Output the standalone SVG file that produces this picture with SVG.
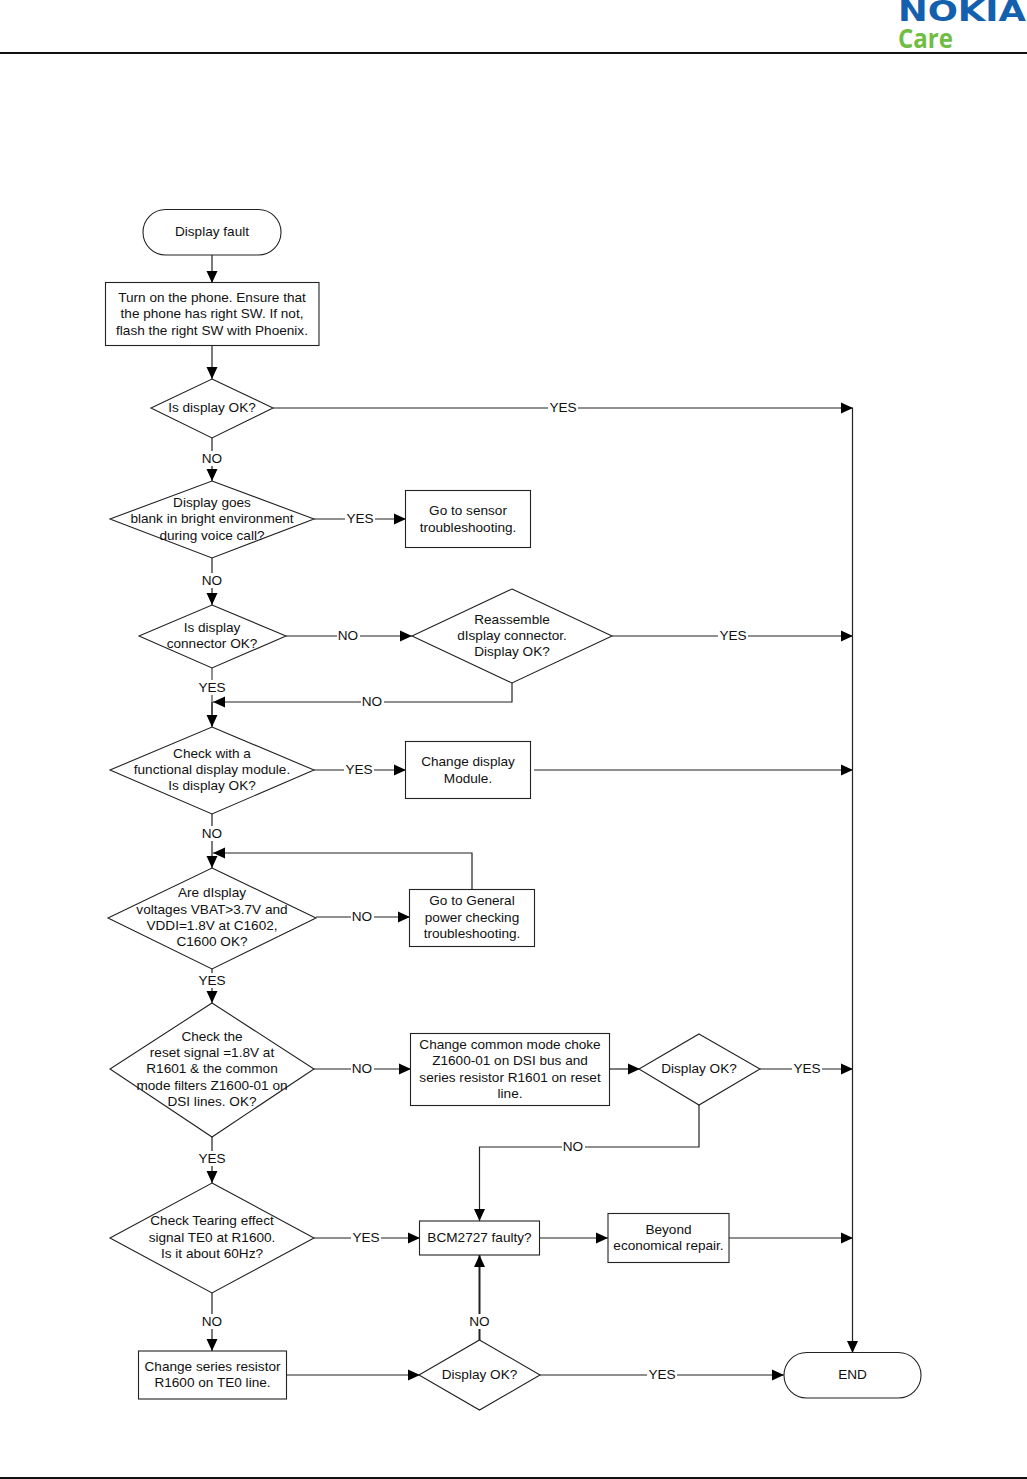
<svg xmlns="http://www.w3.org/2000/svg" width="1027" height="1479" viewBox="0 0 1027 1479">
<style>
text{font-family:"Liberation Sans",Arial,sans-serif;font-size:13.6px;fill:#111;text-anchor:middle}
.s{fill:#fff;stroke:#222;stroke-width:1.1}
.c{fill:none;stroke:#333;stroke-width:1.1}
.a{fill:none;stroke:#222;stroke-width:1.2;marker-end:url(#ah)}
.l{stroke:none;fill:#fff}
</style>
<defs><marker id="ah" markerUnits="userSpaceOnUse" markerWidth="13" markerHeight="13" refX="12" refY="6.500" orient="auto"><path d="M0,1L12,6.500L0,12Z" fill="#000"/></marker></defs>
<rect width="1027" height="1479" fill="#fff"/>
<g id="header">
<line x1="0" y1="53" x2="1027" y2="53" stroke="#111" stroke-width="2"/>
<line x1="0" y1="1478" x2="1027" y2="1478" stroke="#111" stroke-width="2"/>
<text x="962" y="21" textLength="128" lengthAdjust="spacingAndGlyphs" style="font-family:'DejaVu Sans',sans-serif;font-weight:bold;font-size:27.500px;fill:#1361ae">NOKIA</text>
<text x="925.500" y="48" textLength="55" lengthAdjust="spacingAndGlyphs" style="font-family:'Open Sans',sans-serif;font-weight:bold;font-size:27px;fill:#6fbe44">Care</text>
</g>
<g id="connectors">
<path class="a" d="M212,255V283"/>
<path class="a" d="M212,346V379"/>
<path class="a" d="M273,408H853"/>
<path class="a" d="M212,438V481"/>
<path class="a" d="M314,519H406"/>
<path class="a" d="M212,558V605"/>
<path class="a" d="M286,636H412"/>
<path class="a" d="M612,636H853"/>
<path class="c" d="M212,668V726"/>
<path class="a" d="M512,683V702H213"/>
<path class="a" d="M212,702V727"/>
<path class="a" d="M314,770H406"/>
<path class="a" d="M534,770H853"/>
<path class="a" d="M212,814V868"/>
<path class="a" d="M472,889V853H213"/>
<path class="a" d="M316,917H410"/>
<path class="a" d="M212,969V1003"/>
<path class="a" d="M314,1069H411"/>
<path class="a" d="M610,1069H640"/>
<path class="a" d="M760,1069H853"/>
<path class="a" d="M699,1105V1147H479.500V1221"/>
<path class="a" d="M212,1137V1183"/>
<path class="a" d="M314,1238H420"/>
<path class="a" d="M540,1238H608"/>
<path class="a" d="M729,1238H853"/>
<path class="a" d="M212,1293V1351"/>
<path class="a" d="M287,1375H420"/>
<path class="a" d="M479.500,1340V1255" style="stroke-width:2"/>
<path class="a" d="M540,1375H784"/>
<path class="a" d="M852.500,408V1353"/>
</g>
<g id="edge-labels">
<rect class="l" x="548" y="400" width="30" height="16"/><text x="563" y="412">YES</text>
<rect class="l" x="201" y="451" width="23" height="15"/><text x="212" y="463">NO</text>
<rect class="l" x="345" y="511" width="30" height="16"/><text x="360" y="523">YES</text>
<rect class="l" x="201" y="573" width="23" height="15"/><text x="212" y="585">NO</text>
<rect class="l" x="337" y="628" width="23" height="16"/><text x="348" y="640">NO</text>
<rect class="l" x="718" y="628" width="30" height="16"/><text x="733" y="640">YES</text>
<rect class="l" x="197" y="680" width="30" height="15"/><text x="212" y="692">YES</text>
<rect class="l" x="361" y="694" width="23" height="16"/><text x="372" y="706">NO</text>
<rect class="l" x="344" y="762" width="30" height="16"/><text x="359" y="774">YES</text>
<rect class="l" x="201" y="826" width="23" height="15"/><text x="212" y="838">NO</text>
<rect class="l" x="351" y="909" width="23" height="16"/><text x="362" y="921">NO</text>
<rect class="l" x="197" y="973" width="30" height="15"/><text x="212" y="985">YES</text>
<rect class="l" x="351" y="1061" width="23" height="16"/><text x="362" y="1073">NO</text>
<rect class="l" x="792" y="1061" width="30" height="16"/><text x="807" y="1073">YES</text>
<rect class="l" x="562" y="1139" width="23" height="16"/><text x="573" y="1151">NO</text>
<rect class="l" x="197" y="1151" width="30" height="15"/><text x="212" y="1163">YES</text>
<rect class="l" x="351" y="1230" width="30" height="16"/><text x="366" y="1242">YES</text>
<rect class="l" x="201" y="1314" width="23" height="15"/><text x="212" y="1326">NO</text>
<rect class="l" x="468" y="1314" width="23" height="15"/><text x="479.500" y="1326">NO</text>
<rect class="l" x="647" y="1367" width="30" height="16"/><text x="662" y="1379">YES</text>
</g>
<g id="n1"><rect class="s" x="143" y="209.500" width="138" height="45.500" rx="22.700"/><text x="212" y="236">Display fault</text></g>
<g id="n2"><rect class="s" x="105.500" y="282.500" width="213.500" height="63"/><text x="212" y="302">Turn on the phone. Ensure that</text><text x="212" y="318">the phone has right SW. If not,</text><text x="212" y="335">flash the right SW with Phoenix.</text></g>
<g id="n3"><path class="s" d="M212,379L273,408L212,438L151,408Z"/><text x="212" y="412">Is display OK?</text></g>
<g id="n4"><path class="s" d="M212,481L314,519L212,558L110,519Z"/><text x="212" y="507">Display goes</text><text x="212" y="523">blank in bright environment</text><text x="212" y="539.500">during voice call?</text></g>
<g id="n5"><rect class="s" x="405.500" y="490.500" width="125" height="57"/><text x="468" y="515">Go to sensor</text><text x="468" y="532">troubleshooting.</text></g>
<g id="n6"><path class="s" d="M212,605L286,636L212,668L139,636Z"/><text x="212" y="632">Is display</text><text x="212" y="648">connector OK?</text></g>
<g id="n7"><path class="s" d="M512,589L612,636L512,683L412,636Z"/><text x="512" y="624">Reassemble</text><text x="512" y="640">dIsplay connector.</text><text x="512" y="656">Display OK?</text></g>
<g id="n8"><path class="s" d="M212,727L314,770L212,814L110,770Z"/><text x="212" y="758">Check with a</text><text x="212" y="774">functional display module.</text><text x="212" y="790">Is display OK?</text></g>
<g id="n9"><rect class="s" x="405.500" y="741.500" width="125" height="57"/><text x="468" y="765.500">Change display</text><text x="468" y="782.500">Module.</text></g>
<g id="n10"><path class="s" d="M212,868L316,918L212,969L108,918Z"/><text x="212" y="897">Are dIsplay</text><text x="212" y="914">voltages VBAT&gt;3.7V and</text><text x="212" y="930">VDDI=1.8V at C1602,</text><text x="212" y="946">C1600 OK?</text></g>
<g id="n11"><rect class="s" x="409.500" y="889.500" width="125" height="57"/><text x="472" y="905">Go to General</text><text x="472" y="922">power checking</text><text x="472" y="938">troubleshooting.</text></g>
<g id="n12"><path class="s" d="M212,1003L314,1069L212,1137L110,1069Z"/><text x="212" y="1041">Check the</text><text x="212" y="1057">reset signal =1.8V at</text><text x="212" y="1073">R1601 &amp; the common</text><text x="212" y="1090">mode filters Z1600-01 on</text><text x="212" y="1106">DSI lines. OK?</text></g>
<g id="n13"><rect class="s" x="410.500" y="1033.500" width="199" height="72"/><text x="510" y="1048.500">Change common mode choke</text><text x="510" y="1065">Z1600-01 on DSI bus and</text><text x="510" y="1082">series resistor R1601 on reset</text><text x="510" y="1098">line.</text></g>
<g id="n14"><path class="s" d="M699,1034L760,1069L699,1105L639,1069Z"/><text x="699" y="1073">Display OK?</text></g>
<g id="n15"><path class="s" d="M212,1183L314,1238L212,1293L110,1238Z"/><text x="212" y="1225">Check Tearing effect</text><text x="212" y="1242">signal TE0 at R1600.</text><text x="212" y="1258">Is it about 60Hz?</text></g>
<g id="n16"><rect class="s" x="419.500" y="1221" width="120" height="34"/><text x="479.500" y="1242">BCM2727 faulty?</text></g>
<g id="n17"><rect class="s" x="608" y="1213.500" width="121" height="49"/><text x="668.500" y="1234">Beyond</text><text x="668.500" y="1250">economical repair.</text></g>
<g id="n18"><rect class="s" x="138.500" y="1351" width="148" height="48"/><text x="212.500" y="1371">Change series resistor</text><text x="212.500" y="1387">R1600 on TE0 line.</text></g>
<g id="n19"><path class="s" d="M479.500,1340L540,1375L479.500,1410L419,1375Z"/><text x="479.500" y="1379">Display OK?</text></g>
<g id="n20"><rect class="s" x="784" y="1352.500" width="137" height="45.500" rx="22.700"/><text x="852.500" y="1379">END</text></g>
</svg>
